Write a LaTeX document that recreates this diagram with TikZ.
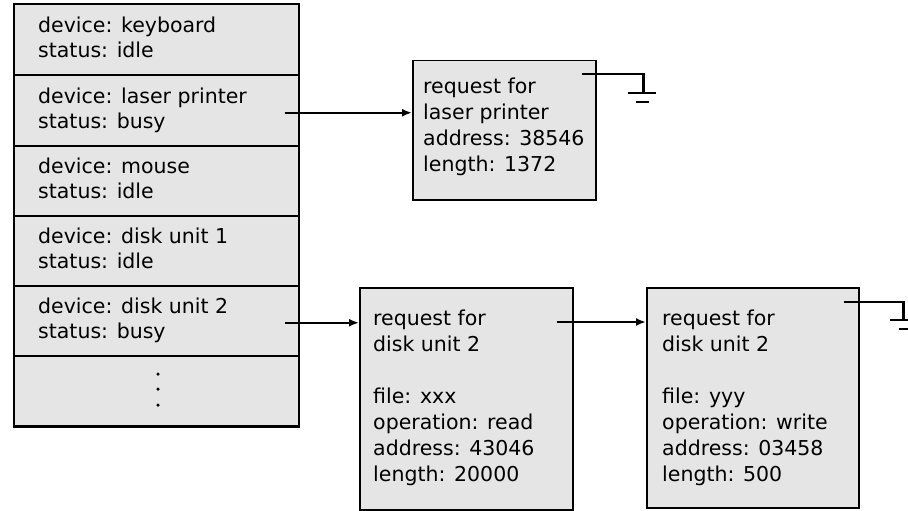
\documentclass[tikz,border=0pt]{standalone}
\usepackage{fontspec}
\setmainfont{DejaVu Sans}
\usetikzlibrary{arrows.meta}
\begin{document}
\begin{tikzpicture}[x=1pt,y=-1pt,
  cell/.style={draw=black, line width=1.5pt, fill=black!10, minimum width=285pt, minimum height=70pt, anchor=north west, inner sep=0pt},
  reqbox/.style={draw=black, line width=1.5pt, fill=black!10, anchor=north west, inner sep=0pt},
  rowtxt/.style={anchor=west, align=left, inner sep=0pt, font=\fontsize{20.5}{25}\selectfont},
  boxtxt/.style={anchor=north west, align=left, inner sep=0pt, font=\fontsize{20.5}{26}\selectfont},
  arr/.style={line width=2pt, -{Latex[length=10pt,width=8pt]}},
  gnd/.style={line width=2.2pt},
  dotmark/.style={circle, fill=black, inner sep=0pt, minimum size=3.5pt}
]
\useasboundingbox (0,0) rectangle (908,511);

% device table
\node[cell] (r1) at (13,4) {};
\node[cell] (r2) at (13,75) {};
\node[cell] (r3) at (13,145) {};
\node[cell] (r4) at (13,215) {};
\node[cell] (r5) at (13,285) {};
\node[cell] (r6) at (13,355) {};
\draw[line width=2.2pt] (r1.north west) -- (r1.north east);
\draw[line width=2.2pt] (r6.south west) -- (r6.south east);

\node[rowtxt] (t1) at ([xshift=25pt]r1.west) {\strut device: keyboard\\\strut status: idle};
\node[rowtxt] (t2) at ([xshift=25pt]r2.west) {\strut device: laser printer\\\strut status: busy};
\node[rowtxt] (t3) at ([xshift=25pt]r3.west) {\strut device: mouse\\\strut status: idle};
\node[rowtxt] (t4) at ([xshift=25pt]r4.west) {\strut device: disk unit 1\\\strut status: idle};
\node[rowtxt] (t5) at ([xshift=25pt]r5.west) {\strut device: disk unit 2\\\strut status: busy};
\node[dotmark] (dt1) at (158,374) {};
\node[dotmark] (dt2) at (158,389) {};
\node[dotmark] (dt3) at (158,405) {};

% request boxes
\node[reqbox, minimum width=183pt, minimum height=139pt] (lp) at (412,60) {};
\node[boxtxt] (lpt) at ([xshift=11pt,yshift=-15pt]lp.north west) {\strut request for\\laser printer\\address: 38546\\length: 1372};

\node[reqbox, minimum width=213pt, minimum height=222pt] (d1) at (359,287) {};
\node[boxtxt] (d1t) at ([xshift=14pt,yshift=-20pt]d1.north west) {\strut request for\\disk unit 2\\[26pt]file: xxx\\operation: read\\address: 43046\\length: 20000};

\node[reqbox, minimum width=212pt, minimum height=220pt] (d2) at (646,287) {};
\node[boxtxt] (d2t) at ([xshift=16pt,yshift=-20pt]d2.north west) {\strut request for\\disk unit 2\\[26pt]file: yyy\\operation: write\\address: 03458\\length: 500};

% arrows
\coordinate (a1) at ([xshift=-15pt,yshift=-2pt]r2.east);
\draw[arr] (a1) -- (a1 -| lp.west);
\coordinate (a2) at ([xshift=-15pt,yshift=-2pt]r5.east);
\draw[arr] (a2) -- (a2 -| d1.west);
\coordinate (a3) at ([xshift=-17pt,yshift=-35pt]d1.north east);
\draw[arr] (a3) -- (a3 -| d2.west);

% ground symbols
\coordinate (g1a) at ([xshift=-15pt,yshift=-14pt]lp.north east);
\coordinate (g1b) at ([xshift=47pt,yshift=-33pt]lp.north east);
\draw[gnd] (g1a) -| (g1b);
\draw[gnd] ([xshift=-16pt]g1b) -- ([xshift=12pt]g1b);
\draw[gnd] ([xshift=-8pt,yshift=-9pt]g1b) -- ([xshift=5pt,yshift=-9pt]g1b);

\coordinate (g2a) at ([xshift=-16pt,yshift=-15pt]d2.north east);
\coordinate (g2b) at ([xshift=44pt,yshift=-33pt]d2.north east);
\draw[gnd] (g2a) -| (g2b);
\draw[gnd] ([xshift=-14pt]g2b) -- ([xshift=12pt]g2b);
\draw[gnd] ([xshift=-5pt,yshift=-9pt]g2b) -- ([xshift=12pt,yshift=-9pt]g2b);
\end{tikzpicture}
\end{document}
